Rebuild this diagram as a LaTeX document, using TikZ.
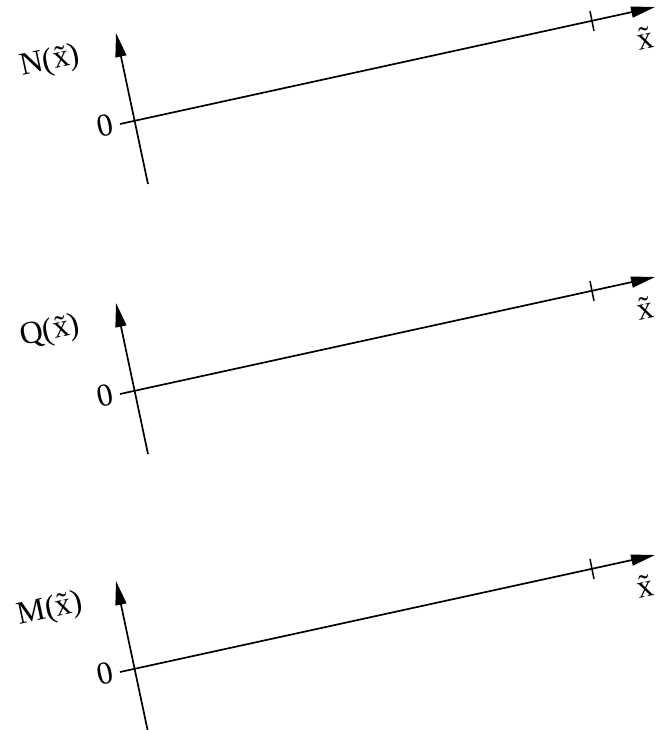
\documentclass[tikz,border=0pt]{standalone}
\usepackage{fontspec}
\setmainfont{Liberation Serif}
\usetikzlibrary{arrows.meta}
\begin{document}
\begin{tikzpicture}[x=1pt,y=-1pt,
  axis/.style={line width=1.7pt,-{Triangle[length=24pt,width=11pt]}},
  tickmark/.style={line width=1.5pt},
  lbl/.style={font=\fontsize{32}{36}\selectfont,rotate=12,inner sep=0pt}]
\useasboundingbox (0,0) rectangle (658,730);
\foreach \dy/\nm in {0/N,270/Q,548/M}{
  \begin{scope}[yshift=-\dy pt]
    \coordinate (vb) at (148,184);
    \coordinate (vt) at (116,33);
    \coordinate (hs) at (120,124);
    \coordinate (ht) at (655,7);
    \coordinate (t1) at (590,11);
    \coordinate (t2) at (594,31);
    \draw[axis] (vb) -- (vt);
    \draw[axis] (hs) -- (ht);
    \draw[tickmark] (t1) -- (t2);
    \node[lbl] (fn) at (50,62) {\nm(\~{x})};
    \node[lbl] (zero) at (105,126) {0};
    \node[lbl] (xl) at (645,38) {\~{x}};
  \end{scope}
}
\end{tikzpicture}
\end{document}
